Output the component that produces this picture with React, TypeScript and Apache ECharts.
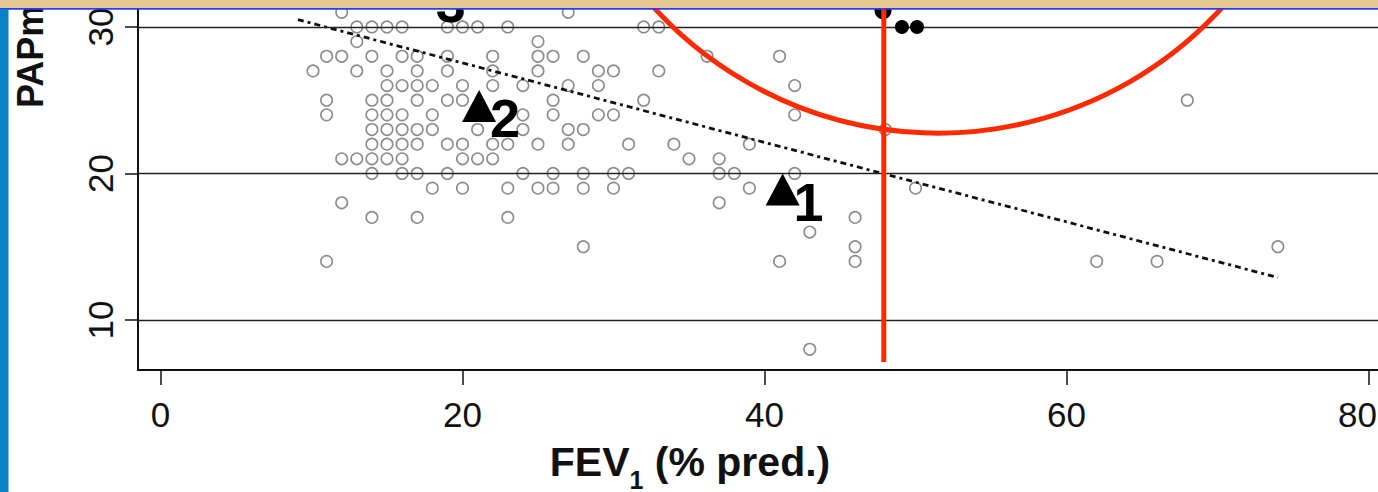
import React, { useEffect, useRef } from "react";
import * as echarts from "echarts";

// Axis ticks
const xTickValues = [0, 20, 40, 60, 80];
const yTickValues = [10, 20, 30];
const gridLineValues = [10, 20, 30];

// Cohort (open circles): PAPm levels and the FEV1 (% pred.) values found at each level
const papmLevels = [31, 30, 29, 28, 27, 26, 25, 24, 23, 22, 21, 20, 19, 18, 17, 16, 15, 14, 8];
const fevByLevel = [
  [12, 27],
  [13, 14, 15, 16, 19, 20, 21, 23, 32, 33],
  [13, 25],
  [11, 12, 14, 16, 17, 19, 22, 25, 26, 28, 36.2, 41],
  [10.1, 13, 15, 17, 19, 22, 25, 29, 30, 33],
  [15, 16, 17, 18, 20, 22, 24, 27, 29, 42],
  [11, 14, 15, 17, 19, 20, 26, 32, 68],
  [11, 14, 15, 16, 18, 24, 26, 29, 30, 42],
  [14, 15, 16, 17, 18, 21, 24, 27, 28, 48],
  [14, 15, 16, 17, 19, 20, 22, 23, 25, 27, 31, 34, 39],
  [12, 13, 14, 15, 16, 20, 21, 22, 35, 37],
  [14, 16, 17, 19, 24, 26, 28, 30, 31, 37, 38, 42],
  [18, 20, 23, 25, 26, 28, 30, 39, 50],
  [12, 37],
  [14, 17, 23, 46],
  [43],
  [28, 46, 74],
  [11, 41, 46, 62, 66],
  [43],
];

// Highlighted cases (filled triangles with numbers)
const caseLabels = ["1", "2", "3"];
const caseFev = [41.2, 21.1, 17.5];
const casePapm = [18.9, 24.6, 32.45];

// Filled black dots
const blackFev = [47.85, 49.1, 50.1];
const blackPapm = [31.1, 30.0, 30.0];
const blackSizes = [17, 14, 14];

// Regression line (dash-dot)
const regressionFev = [9.1, 74.0];
const regressionPapm = [30.5, 12.9];

// Red annotations
const thresholdFev = 47.9;
const thresholdPapmRange = [7.13, 32.5];
const ringCenterFev = 51.5;
const ringCenterPapm = 48.96;
const ringRadiusFev = 25.43;

// Axis extents
const xMin = -1.49;
const xMax = 80.63;
const yMin = 6.587;
const yMax = 31.84;

const FONT = '"Liberation Sans", Arial, Helvetica, sans-serif';

export default function App() {
  const ref = useRef<HTMLDivElement>(null);

  useEffect(() => {
    const el = ref.current;
    if (!el) return;
    const chart = echarts.init(el, null, { renderer: "svg" });

    const cohort: number[][] = [];
    papmLevels.forEach((p, i) => {
      fevByLevel[i].forEach((f) => cohort.push([f, p]));
    });

    const lastTick = xTickValues[xTickValues.length - 1];

    const option: any = {
      animation: false,
      backgroundColor: "#ffffff",
      grid: {
        left: 138,
        top: 0,
        width: 1240,
        height: 370,
        containLabel: false,
        outerBoundsMode: "none",
      },
      xAxis: {
        type: "value",
        min: xMin,
        max: xMax,
        axisLine: { show: true, onZero: false, lineStyle: { color: "#111", width: 2 } },
        axisTick: {
          show: true,
          customValues: xTickValues,
          length: 15,
          lineStyle: { color: "#111", width: 1.5 },
        },
        axisLabel: {
          customValues: xTickValues,
          fontSize: 35,
          color: "#111",
          fontFamily: FONT,
          margin: 27,
          hideOverlap: false,
          formatter: (v: number) => (v === lastTick ? "{last|" + v + "}" : String(v)),
          rich: {
            last: { fontSize: 35, fontFamily: FONT, color: "#111", padding: [0, 22, 0, 0] },
          },
        },
        splitLine: { show: false },
      },
      yAxis: {
        type: "value",
        min: yMin,
        max: yMax,
        axisLine: { show: true, onZero: false, lineStyle: { color: "#111", width: 2 } },
        axisTick: {
          show: true,
          customValues: yTickValues,
          length: 13,
          lineStyle: { color: "#111", width: 1.5 },
        },
        axisLabel: {
          customValues: yTickValues,
          rotate: 90,
          fontSize: 35,
          color: "#111",
          fontFamily: FONT,
          margin: 20,
        },
        splitLine: { show: false },
      },
      series: [
        {
          type: "scatter",
          data: cohort,
          symbol: "circle",
          symbolSize: 11.5,
          itemStyle: {
            color: "rgba(0,0,0,0)",
            borderColor: "#8c8c8c",
            borderWidth: 1.6,
            opacity: 1,
          },
          z: 2,
          markLine: {
            silent: true,
            symbol: "none",
            label: { show: false },
            lineStyle: { color: "#222", width: 1.3, type: "solid" },
            data: gridLineValues.map((v) => ({ yAxis: v })),
          },
        },
        {
          type: "line",
          data: regressionFev.map((x, i) => [x, regressionPapm[i]]),
          symbol: "none",
          lineStyle: { color: "#111", width: 2.8, type: [6, 4, 3, 4] },
          z: 3,
        },
        {
          type: "scatter",
          data: caseFev.map((x, i) => [x, casePapm[i]]),
          symbol: "triangle",
          symbolSize: [34, 32],
          itemStyle: { color: "#000", opacity: 1 },
          clip: false,
          label: {
            show: true,
            position: "inside",
            offset: [26, 12],
            formatter: (p: any) => caseLabels[p.dataIndex],
            fontSize: 54,
            fontWeight: "bold",
            fontFamily: FONT,
            color: "#000",
            textBorderWidth: 0,
            opacity: 1,
          },
          z: 5,
        },
        {
          type: "scatter",
          data: blackFev.map((x, i) => [x, blackPapm[i]]),
          symbol: "circle",
          symbolSize: (_v: any, p: any) => blackSizes[p.dataIndex],
          itemStyle: { color: "#000", opacity: 1 },
          clip: false,
          z: 5,
        },
        {
          type: "line",
          data: thresholdPapmRange.map((y) => [thresholdFev, y]),
          symbol: "none",
          lineStyle: { color: "#ff2a00", width: 5 },
          clip: false,
          z: 6,
        },
      ],
    };

    chart.setOption(option);

    const c = chart.convertToPixel({ gridIndex: 0 }, [ringCenterFev, ringCenterPapm]) as number[];
    const e = chart.convertToPixel({ gridIndex: 0 }, [ringCenterFev + ringRadiusFev, ringCenterPapm]) as number[];
    const r = Math.abs(e[0] - c[0]);

    chart.setOption({
      graphic: [
        {
          type: "circle",
          shape: { cx: c[0], cy: c[1], r },
          style: { fill: "none", stroke: "#ff2a00", lineWidth: 5 },
          silent: true,
          z: 60,
        },
        {
          type: "text",
          x: 30,
          y: 108,
          rotation: Math.PI / 2,
          style: {
            text: "PAPm",
            fontSize: 36,
            fontWeight: "bold",
            fontFamily: FONT,
            fill: "#111",
            textAlign: "left",
            textVerticalAlign: "middle",
          },
          z: 60,
        },
        {
          type: "text",
          x: 690,
          y: 441,
          style: {
            text: "{a|FEV}{s|1}{a| (% pred.)}",
            textAlign: "center",
            textVerticalAlign: "top",
            fill: "#111",
            rich: {
              a: { fontSize: 41, fontWeight: "bold", fontFamily: FONT, lineHeight: 44, verticalAlign: "top", fill: "#111", color: "#111" },
              s: { fontSize: 25, fontWeight: "bold", fontFamily: FONT, lineHeight: 20, padding: [26, 0, 0, 0], verticalAlign: "top", fill: "#111", color: "#111" },
            },
          },
          z: 60,
        },
        {
          type: "rect",
          shape: { x: 0, y: 0, width: 1378, height: 8.5 },
          style: { fill: "#e4c992" },
          z: 100,
        },
        {
          type: "rect",
          shape: { x: 0, y: 8, width: 1378, height: 1.8 },
          style: { fill: "#2b3bff" },
          z: 101,
        },
        {
          type: "rect",
          shape: { x: 0, y: 9, width: 8.5, height: 483 },
          style: { fill: "#0a80c6" },
          z: 101,
        },
      ],
    });

    return () => {
      chart.dispose();
    };
  }, []);

  return (
    <div
      ref={ref}
      style={{ position: "fixed", left: 0, top: 0, width: 1378, height: 492, background: "#fff" }}
    />
  );
}
